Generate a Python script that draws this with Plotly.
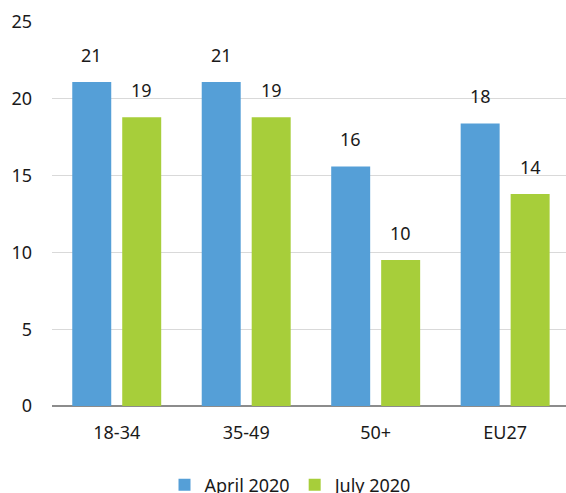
import plotly.graph_objects as go

categories = ["18-34", "35-49", "50+", "EU27"]
april_2020 = [21.1, 21.1, 15.6, 18.4]
july_2020 = [18.8, 18.8, 9.5, 13.8]
series_names = ["April 2020", "July 2020"]
y_ticks = [0, 5, 10, 15, 20, 25]

BLUE = "#559FD7"
GREEN = "#A7CE3A"
FONT = "Noto Sans"
FS = 18

fig = go.Figure()
fig.add_trace(go.Bar(x=categories, y=april_2020, name=series_names[0],
                     marker=dict(color=BLUE, line=dict(width=0))))
fig.add_trace(go.Bar(x=categories, y=july_2020, name=series_names[1],
                     marker=dict(color=GREEN, line=dict(width=0))))

annotations = []
for vals, shift in ((april_2020, -25), (july_2020, 25)):
    for c, v in zip(categories, vals):
        annotations.append(dict(x=c, y=v, xref="x", yref="y", text=f"{v:.0f}",
                                showarrow=False, xshift=shift, yshift=13,
                                yanchor="bottom",
                                font=dict(family=FONT, size=FS, color="#1a1a1a")))

fig.update_layout(
    width=566, height=493,
    margin=dict(l=52, r=0, t=22, b=87, autoexpand=False),
    paper_bgcolor="white", plot_bgcolor="white",
    barmode="group", bargap=0.228, bargroupgap=0.22,
    font=dict(family=FONT, size=FS, color="#1a1a1a"),
    showlegend=True,
    legend=dict(orientation="h", x=0.465, xanchor="center", y=-0.206, yanchor="middle",
                font=dict(family=FONT, size=FS), itemwidth=30, traceorder="normal"),
    annotations=annotations,
    xaxis=dict(range=[-0.5, 3.47], showgrid=False, showline=False, automargin=False,
               ticks="", ticklabelstandoff=14, tickfont=dict(size=FS)),
    yaxis=dict(range=[0, 25], tickvals=y_ticks, showgrid=True, gridcolor="#D9D9D9",
               gridwidth=1, zeroline=True, zerolinecolor="#8C8C8C", zerolinewidth=2,
               showline=False, ticks="", ticklabelstandoff=19, automargin=False,
               tickfont=dict(size=FS)),
)

fig.write_html(
    "out.html",
    config={"displayModeBar": False},
    post_script=(
        "document.documentElement.style.overflow='hidden';"
        "document.body.style.margin='0';document.body.style.overflow='hidden';"
    ),
)
